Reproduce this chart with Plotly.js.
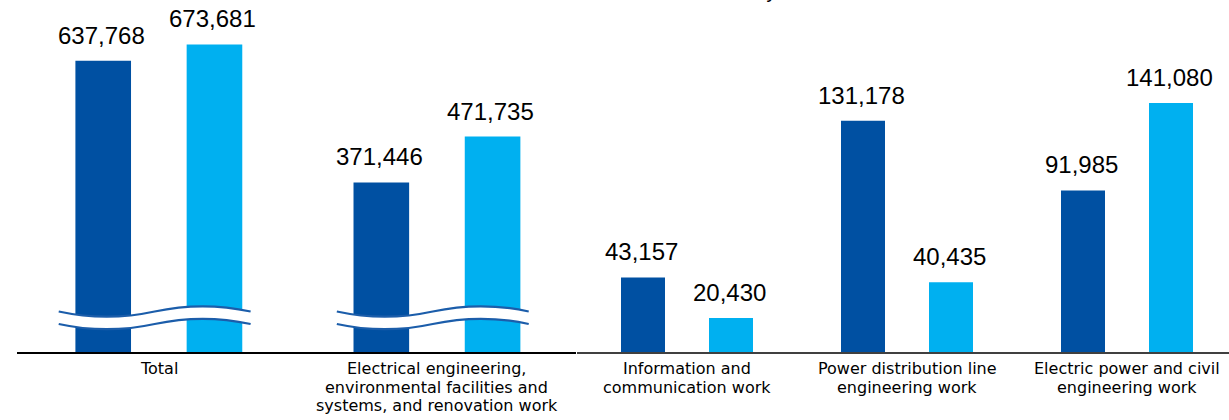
<!DOCTYPE html>
<html>
<head>
<meta charset="utf-8">
<script src="https://cdn.plot.ly/plotly-3.0.1.min.js"></script>
<style>
html,body{margin:0;padding:0;overflow:hidden;background:#fff;width:1229px;height:420px;}
#chart{width:1240px;height:420px;}
</style>
</head>
<body>
<div id="chart"></div>
<script>
// ---- data ----
const categories = [
  'Total',
  'Electrical engineering,<br>environmental facilities and<br>systems, and renovation work',
  'Information and<br>communication work',
  'Power distribution line<br>engineering work',
  'Electric power and civil<br>engineering work'
];
const previousValues = [637768, 371446, 43157, 131178, 91985];
const currentValues  = [673681, 471735, 20430, 40435, 141080];
const seriesNames = ['Previous fiscal year', 'Current fiscal year'];
const brokenCount = 2; // first two categories use a broken (compressed) axis

// ---- styling ----
const DARK = '#0050A2', LIGHT = '#00B0F0', WAVE = '#1B5DAA';
const W = 1240, H = 420, MT = 10, MB = 68;
const plotH = H - MT - MB;
const leftDom = [17 / W, 576 / W], leftRange = [-0.51, 1.5];
const rightDom = [577 / W, 1237 / W], rightRange = [-0.5, 2.5];
const VAL_FONT = {family: 'Arial, Liberation Sans, sans-serif', size: 24, color: '#000'};
const CAT_FONT = {family: 'DejaVu Sans, Arial, sans-serif', size: 16, color: '#000'};

const fmt = v => v.toLocaleString('en-US');

const leftCats = categories.slice(0, brokenCount);
const rightCats = categories.slice(brokenCount);

function barTrace(cats, vals, color, off, xa, ya, name, show) {
  return {type: 'bar', x: cats, y: vals, marker: {color: color, line: {width: 0}},
    width: 0.2, offset: off, xaxis: xa, yaxis: ya, name: name, showlegend: show,
    legendgroup: name, hoverinfo: 'skip'};
}

const traces = [
  barTrace(leftCats, previousValues.slice(0, brokenCount), DARK, -0.3, 'x', 'y', seriesNames[0], true),
  barTrace(leftCats, currentValues.slice(0, brokenCount), LIGHT, 0.1, 'x', 'y', seriesNames[1], true),
  barTrace(rightCats, previousValues.slice(brokenCount), DARK, -0.3, 'x2', 'y2', seriesNames[0], false),
  barTrace(rightCats, currentValues.slice(brokenCount), LIGHT, 0.1, 'x2', 'y2', seriesNames[1], false)
];

const pyToPaper = py => (H - MB - py) / plotH;

// value labels + category labels (one annotation per line for tight line spacing)
const annotations = [];
const lineCenters = [368.5, 387.2, 405.5];
categories.forEach((c, i) => {
  const left = i < brokenCount;
  const idx = left ? i : i - brokenCount;
  const xr = left ? 'x' : 'x2', yr = left ? 'y' : 'y2';
  [[previousValues[i], -0.2], [currentValues[i], 0.2]].forEach(([v, d]) => {
    annotations.push({x: idx + d, y: v, xref: xr, yref: yr,
      text: fmt(v), showarrow: false, yanchor: 'bottom', yshift: 10, xshift: -2,
      font: VAL_FONT});
  });
  c.split('<br>').forEach((line, k) => {
    annotations.push({x: idx, y: pyToPaper(lineCenters[k]), xref: xr, yref: 'paper',
      text: line, showarrow: false, yanchor: 'middle', xanchor: 'center', font: CAT_FONT});
  });
});

// axis break waves (paper coords computed from left axis)
function catToPaper(pos) {
  return leftDom[0] + (pos - leftRange[0]) / (leftRange[1] - leftRange[0]) * (leftDom[1] - leftDom[0]);
}
function waveForward(x0, x1, y, A) {
  const hw = (x1 - x0) / 2, h = A * 4 / 3;
  return `C ${x0 + hw / 3},${y - h} ${x0 + 2 * hw / 3},${y - h} ${x0 + hw},${y} ` +
         `C ${x0 + 4 * hw / 3},${y + h} ${x0 + 5 * hw / 3},${y + h} ${x1},${y}`;
}
function waveBackward(x0, x1, y, A) {
  const hw = (x1 - x0) / 2, h = A * 4 / 3;
  return `C ${x0 + 5 * hw / 3},${y + h} ${x0 + 4 * hw / 3},${y + h} ${x0 + hw},${y} ` +
         `C ${x0 + 2 * hw / 3},${y - h} ${x0 + hw / 3},${y - h} ${x0},${y}`;
}
const shapes = [];
const yU = pyToPaper(311.5), yL = pyToPaper(324), A = 5.2 / plotH;
for (let i = 0; i < brokenCount; i++) {
  const x0 = catToPaper(i - 0.36), x1 = catToPaper(i + 0.33);
  shapes.push({type: 'path', xref: 'paper', yref: 'paper',
    path: `M ${x0},${yU} ${waveForward(x0, x1, yU, A)} L ${x1},${yL} ${waveBackward(x0, x1, yL, A)} Z`,
    fillcolor: '#ffffff', line: {width: 0}});
  shapes.push({type: 'path', xref: 'paper', yref: 'paper',
    path: `M ${x0},${yU} ${waveForward(x0, x1, yU, A)}`, line: {color: WAVE, width: 2.2}});
  shapes.push({type: 'path', xref: 'paper', yref: 'paper',
    path: `M ${x0},${yL} ${waveForward(x0, x1, yL, A)}`, line: {color: WAVE, width: 2.2}});
}

const layout = {
  width: W, height: H,
  margin: {l: 0, r: 0, t: MT, b: MB, autoexpand: false},
  paper_bgcolor: '#fff', plot_bgcolor: 'rgba(0,0,0,0)',
  barmode: 'overlay',
  showlegend: true,
  legend: {orientation: 'h', x: 592 / W, xanchor: 'left', y: 1, yanchor: 'bottom',
    entrywidth: 522, entrywidthmode: 'pixels',
    font: {family: 'Arial, Liberation Sans, sans-serif', size: 20, color: '#000'}},
  xaxis: {domain: leftDom, range: leftRange, type: 'category', showline: true, linecolor: '#000',
    linewidth: 2, ticks: '', showticklabels: false, showgrid: false, zeroline: false, fixedrange: true},
  xaxis2: {domain: rightDom, range: rightRange, type: 'category', showline: true, linecolor: '#404040',
    linewidth: 2, ticks: '', showticklabels: false, showgrid: false, zeroline: false, anchor: 'y2', fixedrange: true},
  yaxis: {range: [0, 749000], visible: false, showgrid: false, zeroline: false, fixedrange: true},
  yaxis2: {range: [1347, 193266], visible: false, showgrid: false, zeroline: false, anchor: 'x2', fixedrange: true},
  annotations: annotations,
  shapes: shapes
};

Plotly.newPlot('chart', traces, layout, {displayModeBar: false, staticPlot: true});
</script>
</body>
</html>
